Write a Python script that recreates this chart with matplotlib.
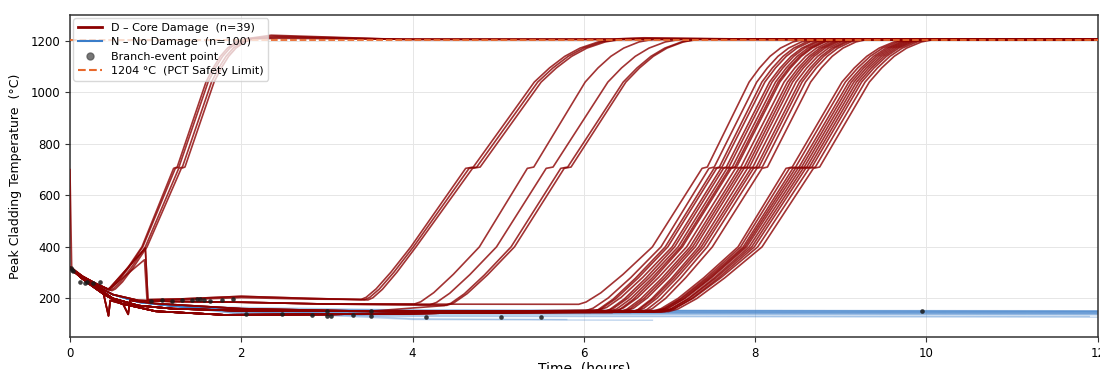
import matplotlib
matplotlib.use("Agg")
import matplotlib.pyplot as plt
from matplotlib.lines import Line2D

# ---- pre-heat-up paths (time h, PCT degC) ----
PATH_T = [
    [0.0, 0.15, 0.30, 0.45, 0.88, 0.91, 1.3, 2.0, 2.8],          # 0 rises to ~400 then drops
    [0.0, 0.02, 0.15, 0.30, 0.45, 0.87, 0.90, 1.3, 2.0, 2.8],    # 1 starts with 700 spike
    [0.0, 0.15, 0.30, 0.50, 0.80, 1.2, 2.0, 3.0],                # 2 mid band
    [0.0, 0.15, 0.30, 0.50, 0.80, 1.2, 2.0, 3.5, 5.0],           # 3 low band
    [0.0, 0.20, 0.40, 0.60, 1.0, 1.8, 3.0, 5.0],                 # 4 lowest band
    [0.0, 0.20, 0.38, 0.45, 0.47, 0.62, 0.68, 0.70, 1.0, 2.0, 3.5],  # 5 with dips
]
PATH_Y = [
    [320, 285, 258, 235, 395, 195, 198, 208, 200],
    [700, 320, 285, 258, 233, 350, 192, 195, 203, 197],
    [320, 280, 250, 215, 192, 188, 185, 178],
    [318, 275, 245, 200, 172, 160, 152, 150, 150],
    [318, 262, 215, 180, 150, 136, 138, 145],
    [320, 268, 235, 132, 192, 178, 138, 192, 180, 160, 150],
]

# ---- D - core damage sequences (39) ----
D_PATH = [0, 0, 0, 0,
          1, 0, 0,
          2, 2, 5, 2,
          2, 3, 4, 5, 3, 4, 3, 5, 4, 3, 4, 3, 5, 4, 3, 4, 3, 4,
          3, 4, 3, 4, 3, 4, 3, 4, 3, 4]
D_ONSET = [0.44, 0.45, 0.47, 0.49,
           3.40, 3.44, 3.48,
           4.02, 4.20, 4.37, 4.40,
           5.94, 6.02, 6.08, 6.12, 6.18, 6.22, 6.26, 6.30, 6.33, 6.38, 6.42, 6.46,
           6.50, 6.55, 6.58, 6.62, 6.66, 6.72,
           6.80, 6.82, 6.85, 6.86, 6.88, 6.90, 6.92, 6.94, 6.96, 6.99]
D_BASE = [236, 235, 232, 230,
          196, 195, 194,
          178, 175, 172, 173,
          177, 152, 146, 150, 155, 147, 151, 149, 145, 153, 148, 150,
          152, 146, 149, 151, 147, 150,
          150, 148, 152, 149, 151, 147, 150, 148, 152, 149]
D_T400 = [0.84, 0.85, 0.88, 0.90,
          3.98, 4.01, 4.04,
          4.78, 4.98, 5.15, 5.19,
          6.80, 6.90, 6.95, 6.98, 7.03, 7.06, 7.10, 7.13, 7.15, 7.20, 7.24, 7.27,
          7.30, 7.34, 7.37, 7.40, 7.44, 7.50,
          7.80, 7.83, 7.86, 7.88, 7.90, 7.93, 7.96, 7.99, 8.03, 8.08]
D_KINK = [1.21, 1.23, 1.27, 1.30,
          4.62, 4.66, 4.70,
          5.34, 5.56, 5.73, 5.77,
          7.38, 7.46, 7.52, 7.55, 7.60, 7.63, 7.67, 7.70, 7.72, 7.77, 7.81, 7.84,
          7.87, 7.91, 7.95, 7.98, 8.02, 8.08,
          8.36, 8.40, 8.44, 8.47, 8.50, 8.53, 8.56, 8.59, 8.63, 8.68]
D_TOP = [2.05, 2.08, 2.12, 2.15,
         6.40, 6.44, 6.48,
         6.84, 7.16, 7.35, 7.37,
         8.60, 8.70, 8.76, 8.80, 8.86, 8.89, 8.93, 8.96, 8.98, 9.03, 9.07, 9.10,
         9.13, 9.17, 9.21, 9.24, 9.28, 9.34,
         9.81, 9.85, 9.89, 9.92, 9.95, 9.98, 10.01, 10.04, 10.08, 10.13]
# level held just after reaching the top (early ones run a bit hotter)
D_HOLD = [1222, 1218, 1214, 1210,
          1212, 1210, 1208,
          1208, 1207, 1206, 1206] + [1206] * 28

# heat-up shape
LOW_FRAC = [0.0, 0.1, 0.3, 0.6, 1.0]       # share of onset -> 400 degC time
LOW_RISE = [0.0, 0.04, 0.2, 0.52, 1.0]     # share of the rise to 400 degC
UP_FRAC = [0.0, 0.05, 0.45, 0.55, 0.65, 0.75, 0.87, 1.0]
UP_TEMP = [705, 710, 1040, 1095, 1140, 1172, 1196, 1208]
TOP_TEMP = 1206
T_END = 12.0

# ---- N - no damage sequences (shown subset) ----
N_EARLY_T = [0.0, 0.15, 0.30, 0.50, 0.80, 1.20]
N_EARLY_Y = [315, 278, 250, 215, 185, 170]
N_MID = [165, 160, 158, 155, 152, 150, 150, 148, 145, 142, 140, 138, 160, 150, 156, 147]
N_LATE = [152, 151, 150, 148, 146, 145, 143, 141, 138, 136, 130, 127, 118, 115, 150, 142]
N_END = [12, 12, 12, 12, 12, 12, 12, 12, 12, 12, 11.9, 12, 5.8, 6.8, 12, 12]

# ---- branch-event points ----
EV_T = [0.01, 0.02, 0.03, 0.12, 0.17, 0.20, 0.27, 0.35,
        0.95, 1.08, 1.19, 1.31, 1.42, 1.48, 1.52, 1.57, 1.63, 1.78, 1.90,
        2.06, 2.48, 2.83, 3.00, 3.05, 3.00, 3.30, 3.52, 3.52, 4.16, 5.03, 5.50, 9.95]
EV_Y = [318, 310, 305, 262, 260, 262, 258, 262,
        190, 192, 190, 193, 195, 197, 196, 192, 190, 194, 196,
        140, 138, 134, 132, 130, 150, 135, 133, 150, 127, 128, 128, 150]

SAFETY = 1204

fig = plt.figure(figsize=(11, 3.69), dpi=100)
ax = fig.add_axes([0.0636, 0.0867, 0.9344, 0.8723])

# no-damage curves
for i in range(len(N_END)):
    t = N_EARLY_T + [2.0, 4.0, N_END[i]]
    y = N_EARLY_Y + [N_MID[i], N_LATE[i] + 3, N_LATE[i]]
    ax.plot(t, y, color='#3a7dc9', lw=1.0, alpha=0.32, zorder=2)

# core-damage curves
for i in range(len(D_ONSET)):
    pt, py = PATH_T[D_PATH[i]], PATH_Y[D_PATH[i]]
    t = [v for v in pt if v < D_ONSET[i] - 0.02]
    y = py[:len(t)]
    on, t4, kk, base = D_ONSET[i], D_T400[i], D_KINK[i], D_BASE[i]
    t += [on + f * (t4 - on) for f in LOW_FRAC]
    y += [base + r * (400 - base) for r in LOW_RISE]
    span = D_TOP[i] - kk
    t += [kk + f * span for f in UP_FRAC]
    y += UP_TEMP
    t += [D_TOP[i] + 0.3, D_TOP[i] + 1.8, T_END]
    y += [D_HOLD[i], TOP_TEMP, TOP_TEMP]
    ax.plot(t, y, color='#8b0000', lw=1.2, alpha=0.8, zorder=3)

ax.scatter(EV_T, EV_Y, s=11, color='#1a1a1a', alpha=0.85, zorder=5, linewidths=0)
ax.axhline(SAFETY, color='#e8692c', lw=1.3, ls='--', zorder=4)

ax.set_xlim(0, 12)
ax.set_ylim(50, 1300)
ax.set_xticks(range(0, 13, 2))
ax.set_yticks(range(200, 1201, 200))
ax.grid(True, color='#e6e6e6', lw=0.7)
ax.set_axisbelow(True)
for s in ax.spines.values():
    s.set_color('#333333')
    s.set_linewidth(1.1)
ax.tick_params(labelsize=8.5, color='#333333', length=3.5)
ax.set_xlabel('Time  (hours)', fontsize=10, labelpad=1)
ax.set_ylabel('Peak Cladding Temperature  (°C)', fontsize=9, labelpad=6)

handles = [
    Line2D([], [], color='#8b0000', lw=2),
    Line2D([], [], color='#3a7dc9', lw=1.5),
    Line2D([], [], color='#555555', marker='o', ls='none', ms=5, alpha=0.8),
    Line2D([], [], color='#e8692c', lw=1.5, ls='--'),
]
labels = ['D – Core Damage  (n=39)', 'N – No Damage  (n=100)',
          'Branch-event point', '1204 °C  (PCT Safety Limit)']
ax.legend(handles, labels, loc='upper left', fontsize=8, framealpha=0.75,
          borderaxespad=0.3, handlelength=2.2, labelspacing=0.4, borderpad=0.4)

fig.savefig('out.png', dpi=100)
